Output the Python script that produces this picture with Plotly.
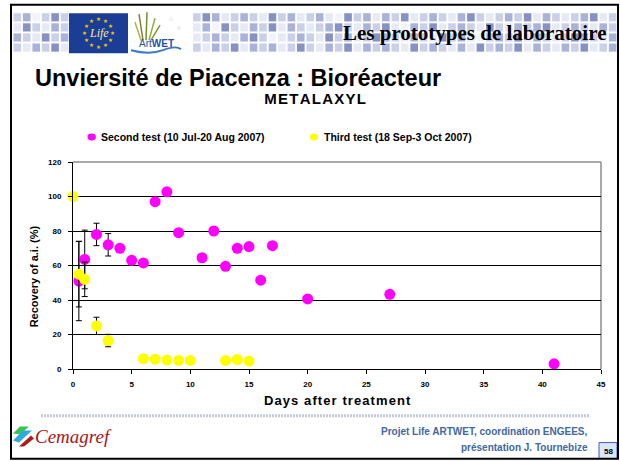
import math
import plotly.graph_objects as go

# ---- data -------------------------------------------------------------
second_days = [0.5, 1, 2, 3, 4, 5, 6, 7, 8, 9, 11, 12, 13, 14, 15, 16, 17, 20, 27, 41]
second_vals = [51, 63.5, 78, 72, 70, 63, 61.5, 97, 102.7, 79, 64.5, 80, 59.5, 70, 71, 51.5, 71.5, 40.6, 43.3, 3]
second_err = [23, 17, 6.5, 6.5, 0, 0, 0, 0, 0, 0, 0, 0, 0, 0, 0, 0, 0, 0, 0, 0]

third_days = [0, 0.5, 1, 2, 3, 6, 7, 8, 9, 10, 13, 14, 15]
third_vals = [100, 55, 52, 25, 16.5, 6, 5.7, 5.2, 5, 5, 5, 5.5, 4.6]
third_err = [0, 19, 10, 5, 3.6, 0, 0, 0, 0, 0, 0, 0, 0]

x_ticks = [0, 5, 10, 15, 20, 25, 30, 35, 40, 45]
y_ticks = [0, 20, 40, 60, 80, 100, 120]

second_name = "Second test (10 Jul-20 Aug 2007)"
third_name = "Third test (18 Sep-3 Oct 2007)"

# ---- page geometry (pixels) -------------------------------------------
W, H = 620, 461
L, R, T, B = 73, 601, 162, 369.3


def px(x):
    return (x - L) / (R - L)


def py(y):
    return (B - y) / (B - T)


def spaced(s):
    # widen the tracking of a label with hair spaces
    return "\u200a".join(s)


SANS = "Arial, Liberation Sans, sans-serif"
SERIF = "Times New Roman, Liberation Serif, serif"

fig = go.Figure()

fig.add_trace(go.Scatter(
    x=second_days, y=second_vals, mode="markers", name=second_name,
    marker=dict(color="#ff00ff", size=11, line=dict(width=0)),
    error_y=dict(type="data", array=second_err, visible=True,
                 color="black", thickness=1, width=3),
    showlegend=False, cliponaxis=False,
))
fig.add_trace(go.Scatter(
    x=third_days, y=third_vals, mode="markers", name=third_name,
    marker=dict(color="#ffff00", size=11, line=dict(width=0)),
    error_y=dict(type="data", array=third_err, visible=True,
                 color="black", thickness=1, width=3),
    showlegend=False, cliponaxis=False,
))

shapes = []
annotations = []


def rect(x0, y0, x1, y1, fill, line=None, lw=0, layer="below"):
    shapes.append(dict(type="rect", xref="paper", yref="paper",
                       x0=px(x0), x1=px(x1), y0=py(y0), y1=py(y1),
                       fillcolor=fill, line=dict(color=line or fill, width=lw),
                       layer=layer))


def text(x, y, s, size, color="black", family=SANS, xanchor="center",
         yanchor="middle", weight="normal", style="normal", angle=0):
    annotations.append(dict(x=px(x), y=py(y), xref="paper", yref="paper",
                            text=s, showarrow=False, xanchor=xanchor,
                            yanchor=yanchor, textangle=angle,
                            font=dict(size=size, color=color, family=family,
                                      weight=weight, style=style)))


# ---- header band of blue tiles ------------------------------------------
shades = {"a": "#e6eaf5", "b": "#c9d0e8", "c": "#a9b2d8", "d": "#8691c4", "e": "#f2f4fa"}
rows = [
    "bcebdbacbabcdbacbaebdcabcbadbcabcaedbcacbdabcbacdbabcbdacbabcdab",
    "adbacbcaebdacbadbcbacedbacbdacbabcdbacbdaecbdabcbadbacbcdabcbacb",
    "cbadbcaebcbdacbacbdabcbacdbeabcbadbcabdcbacbadbcaebcbdacbabdcbac",
    "bacbdabcadbacbeadbcbacbdacbcabdbacbdacbcbadbcbacadbcbdacbacbdabc",
]
x_start, pitch_x, tile_w = 13.5, 9.45, 7.6
y_start, pitch_y, tile_h = 13.0, 10.1, 8.2
for r, pattern in enumerate(rows):
    for c, ch in enumerate(pattern):
        x0 = x_start + c * pitch_x
        if x0 + tile_w > 617:
            break
        if 64 < x0 < 184:
            continue
        y0 = y_start + r * pitch_y
        rect(x0, y0, x0 + tile_w, y0 + tile_h, shades[ch])

# EU LIFE logo
rect(69, 13, 128, 53, "#1c3d96")
for k in range(12):
    a = 2 * math.pi * k / 12
    text(98.5 + 14 * math.cos(a), 33 + 14 * math.sin(a), "★", 5.5, color="#f3d400",
         family="DejaVu Sans")
text(98.5, 33, "Life", 12, color="#f4e9a8", family=SERIF, style="italic")

# ArtWET logo
for (xa, ya, xb, yb, col) in [(143, 40, 139, 14, "#8c7a3a"), (146, 40, 147, 12, "#6b8f2a"),
                              (149, 40, 155, 18, "#8fae3a"), (141, 40, 135, 22, "#a3b84a"),
                              (151, 40, 160, 25, "#7f9a2f")]:
    shapes.append(dict(type="line", xref="paper", yref="paper",
                       x0=px(xa), y0=py(ya), x1=px(xb), y1=py(yb),
                       line=dict(color=col, width=1.5)))
text(156, 43, "<span style='font-weight:normal'>Art</span><b>WET</b>", 10,
     color="#2452a4", family=SANS)
shapes.append(dict(type="path", xref="paper", yref="paper",
                   path="M {:.4f},{:.4f} Q {:.4f},{:.4f} {:.4f},{:.4f} T {:.4f},{:.4f}".format(
                       px(131), py(50), px(150), py(55), px(163), py(50), px(181), py(49)),
                   line=dict(color="#3f7ac4", width=2)))
text(171, 19, "☆", 7, color="#b8bcc8", family="DejaVu Sans")
text(178, 27, "☆", 6, color="#b8bcc8", family="DejaVu Sans")

text(608, 33, "Les prototypes de laboratoire", 21, family=SERIF,
     xanchor="right", weight="bold")

# ---- slide titles -----------------------------------------------------------
text(33, 78, "Unviersité de Piacenza : Bioréacteur", 23.5, xanchor="left", weight="bold")
text(314, 98.5, "\u200a" + spaced("METALAXYL"), 15, weight="bold")

# ---- legend -------------------------------------------------------------------
for (cx, col, label) in [(91.7, "#ff00ff", second_name), (314, "#ffff00", third_name)]:
    shapes.append(dict(type="circle", xref="paper", yref="paper",
                       x0=px(cx - 4.2), x1=px(cx + 4.2), y0=py(133.5), y1=py(140.5),
                       fillcolor=col, line=dict(width=0)))
    text(cx + 7.5, 137, label, 10.5, xanchor="left", weight="bold")

# ---- axis titles --------------------------------------------------------------
text(34, 276.5, "Recovery of a.i. (%)", 11, weight="bold", angle=-90)
text(337, 401, spaced("Days after treatment"), 13, weight="bold")

# plot frame: grey top/right edges
shapes.append(dict(type="line", xref="paper", yref="paper", x0=0, x1=1, y0=1, y1=1,
                   line=dict(color="#8c8c8c", width=1.5), layer="below"))
shapes.append(dict(type="line", xref="paper", yref="paper", x0=1, x1=1, y0=0, y1=1,
                   line=dict(color="#8c8c8c", width=1.5), layer="below"))

# ---- footer -------------------------------------------------------------------
shapes.append(dict(type="line", xref="paper", yref="paper",
                   x0=px(41), x1=px(590), y0=py(416), y1=py(416),
                   line=dict(color="#c3c8de", width=3, dash="2px,1px")))
for path, col in [("M13,434 L20,427 L29,427 L20,435 Z", "#3cc24d"),
                  ("M13,441 L23,431 L32,431 L19,443 Z", "#2fa9e2"),
                  ("M19,447 L31,436 L34,439 L24,447 Z", "#b3191c")]:
    pts = path.replace("M", "").replace("Z", "").split("L")
    conv = []
    for p in pts:
        xx, yy = [float(v) for v in p.strip().split(",")]
        conv.append("{:.4f},{:.4f}".format(px(xx), py(yy)))
    shapes.append(dict(type="path", xref="paper", yref="paper",
                       path="M " + " L ".join(conv) + " Z",
                       fillcolor=col, line=dict(width=0)))
text(33, 437, "Cemagref", 19, color="#a8161b", family=SERIF, xanchor="left", style="italic")

text(590, 431.5, "Projet Life ARTWET, coordination ENGEES,", 10, color="#41689f",
     xanchor="right", weight="bold")
text(590, 447.5, "présentation J. Tournebize", 10, color="#41689f",
     xanchor="right", weight="bold")

rect(599, 443, 617, 459, "#dde7fa", line="#3a5bd0", lw=1, layer="above")
text(608, 451.5, "58", 8, xanchor="center", weight="bold")

# slide border
shapes.append(dict(type="rect", xref="paper", yref="paper",
                   x0=px(11), x1=px(618), y0=py(4.5), y1=py(459.3),
                   line=dict(color="black", width=2), fillcolor="rgba(0,0,0,0)",
                   layer="above"))

fig.update_layout(
    width=W, height=H, autosize=False,
    margin=dict(l=L, r=W - R, t=T, b=H - B, pad=0),
    paper_bgcolor="white", plot_bgcolor="white",
    shapes=shapes, annotations=annotations,
    font=dict(family=SANS, color="black"),
    xaxis=dict(range=[0, 45], tickvals=x_ticks, ticks="outside", ticklen=4,
               tickcolor="black", showline=True, linecolor="black", linewidth=1,
               showgrid=False, zeroline=False,
               tickfont=dict(size=8, weight="bold", family=SANS), ticklabelstandoff=3),
    yaxis=dict(range=[0, 120], tickvals=y_ticks, ticks="outside", ticklen=4,
               tickcolor="black", showline=True, linecolor="black", linewidth=1,
               showgrid=True, gridcolor="black", gridwidth=1, zeroline=False,
               tickfont=dict(size=8, weight="bold", family=SANS), ticklabelstandoff=5),
)

fig.write_html("out.html")
